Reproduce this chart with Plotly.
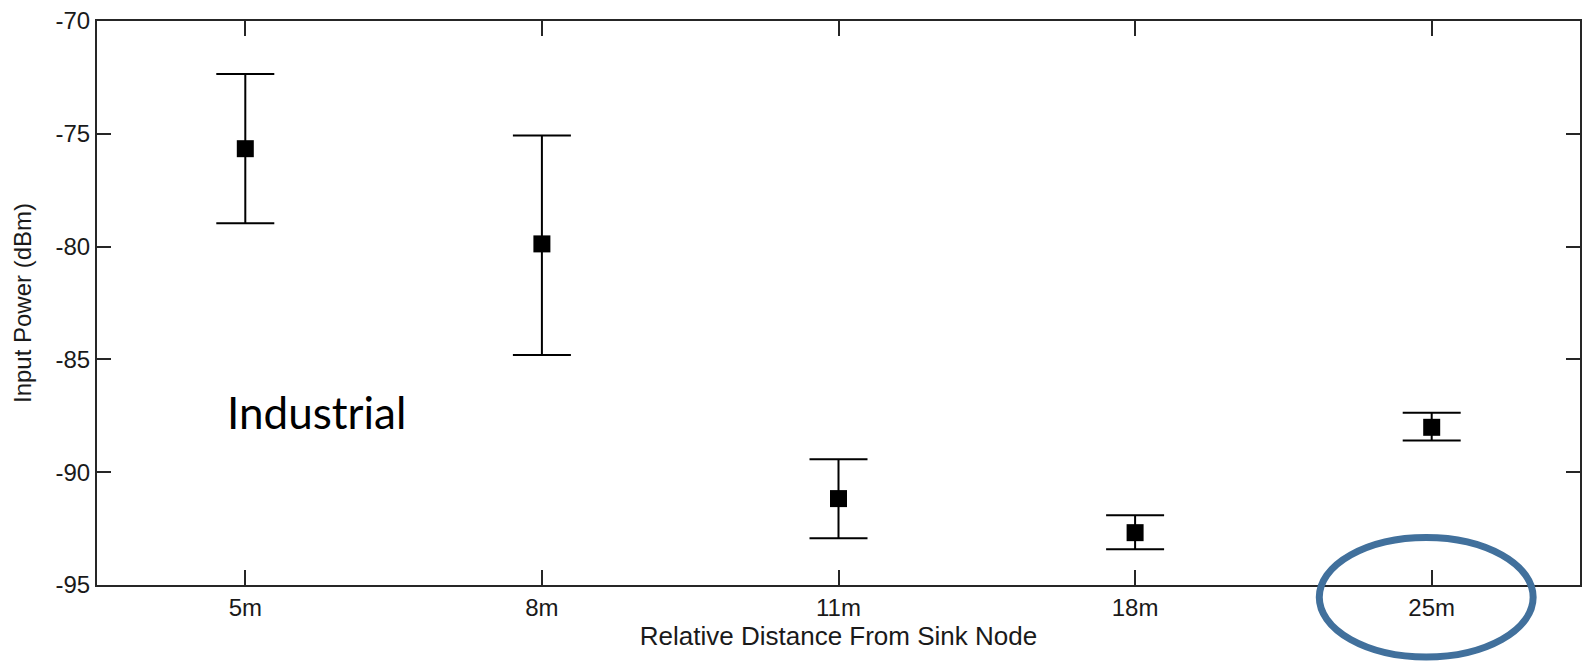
import plotly.graph_objects as go

# Measured input power at each distance from the sink node
distances = ["5m", "8m", "11m", "18m", "25m"]
mean_power = [-75.66, -79.88, -91.17, -92.68, -88.01]
err_plus = [3.31, 4.81, 1.74, 0.77, 0.65]
err_minus = [3.31, 4.92, 1.76, 0.74, 0.59]

y_ticks = [-95, -90, -85, -80, -75, -70]

axis_color = "#262626"
family = "Liberation Sans, Arial, sans-serif"
tick_font = dict(family=family, size=24, color="#1a1a1a")

fig = go.Figure()
fig.add_trace(go.Scatter(
    x=distances,
    y=mean_power,
    mode="markers",
    marker=dict(symbol="square", size=17, color="black"),
    error_y=dict(
        type="data",
        symmetric=False,
        array=err_plus,
        arrayminus=err_minus,
        color="black",
        thickness=2,
        width=29,
    ),
    showlegend=False,
))

fig.update_layout(
    width=1583,
    height=663,
    margin=dict(l=97, r=1, t=21, b=78),
    paper_bgcolor="white",
    plot_bgcolor="white",
    font=tick_font,
    xaxis=dict(
        type="category",
        range=[-0.5, 4.5],
        showgrid=False,
        zeroline=False,
        showline=True,
        linecolor=axis_color,
        linewidth=2,
        mirror="ticks",
        ticks="inside",
        ticklen=15,
        tickwidth=2,
        tickcolor=axis_color,
        tickfont=tick_font,
        title=dict(text="Relative Distance From Sink Node",
                   font=dict(family=family, size=26, color="#1a1a1a"), standoff=4),
    ),
    yaxis=dict(
        range=[-95, -70],
        tickvals=y_ticks,
        ticktext=[str(v) for v in y_ticks],
        showgrid=False,
        zeroline=False,
        showline=True,
        linecolor=axis_color,
        linewidth=2,
        mirror="ticks",
        ticks="inside",
        ticklen=14,
        tickwidth=2,
        tickcolor=axis_color,
        tickfont=tick_font,
        title=dict(text="Input Power (dBm)",
                   font=dict(family=family, size=24, color="#1a1a1a"), standoff=17),
    ),
    shapes=[
        dict(
            type="circle",
            xref="paper", yref="paper",
            x0=0.8242, x1=0.9684,
            y0=-0.1277, y1=0.0842,
            line=dict(color="#41709C", width=7),
            fillcolor="rgba(0,0,0,0)",
            layer="above",
        )
    ],
    annotations=[
        dict(
            text="Industrial",
            xref="paper", yref="paper",
            x=0.0862, y=0.307,
            xanchor="left", yanchor="middle",
            showarrow=False,
            font=dict(family="Lato, Noto Sans, sans-serif", size=44, color="black"),
        )
    ],
)

fig.write_html("out.html")
